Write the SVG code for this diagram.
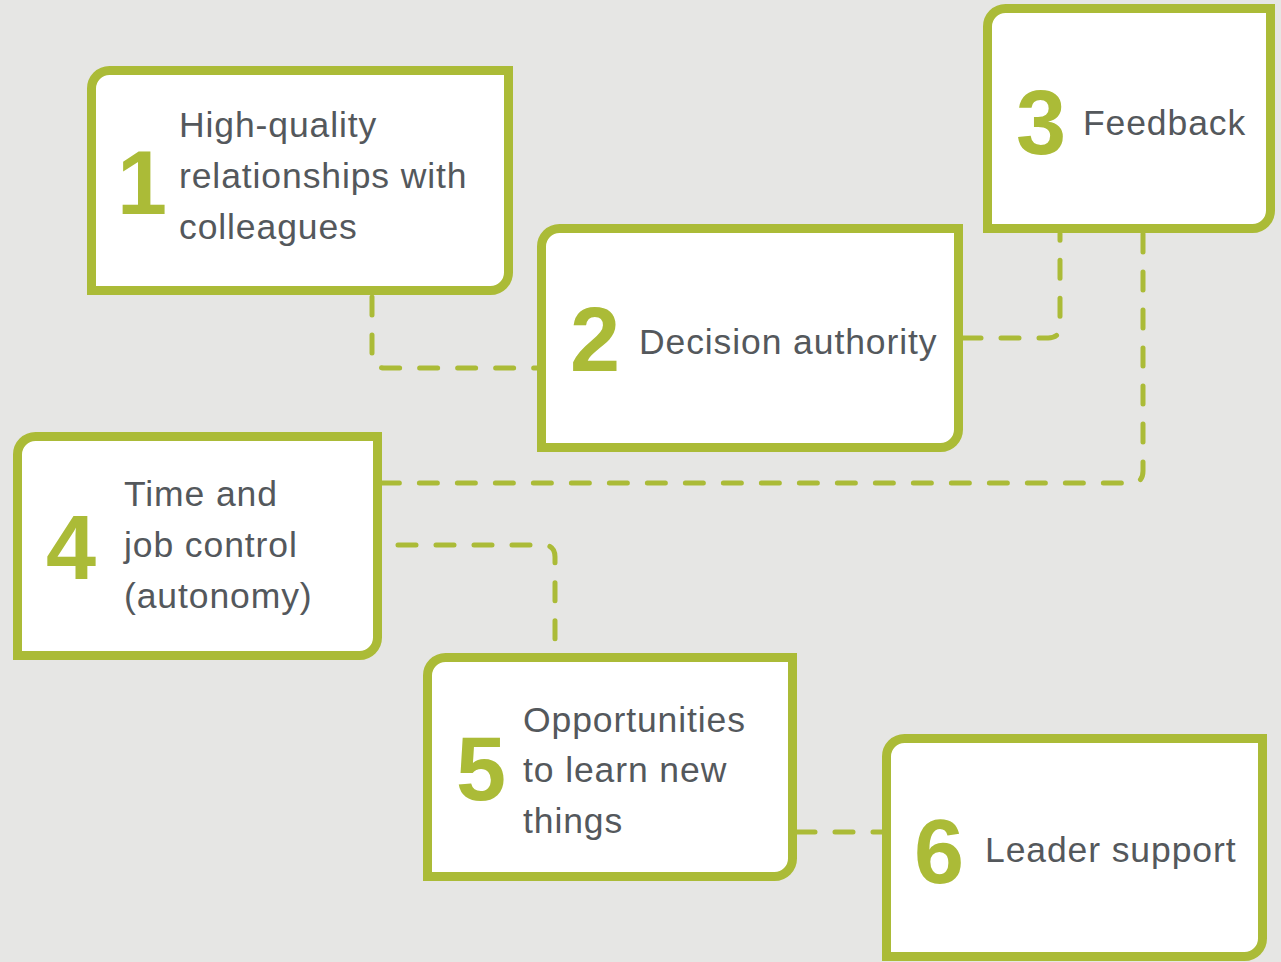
<svg xmlns="http://www.w3.org/2000/svg" width="1281" height="962" viewBox="0 0 1281 962">
  <style>
    .box { fill: #ffffff; stroke: #abbb37; stroke-width: 9; }
    .num { font-family: "Liberation Sans", Arial, sans-serif; font-weight: bold; font-size: 90px; fill: #abbb37; }
    .lbl { font-family: "Liberation Sans", Arial, sans-serif; font-size: 35.5px; letter-spacing: 0.9px; fill: #54585c; }
    .link { fill: none; stroke: #abbb37; stroke-width: 5; stroke-linecap: round; stroke-dasharray: 18 20; }
  </style>
  <rect width="1281" height="962" fill="#e6e6e4"/>

  <!-- dashed connectors between factors -->
  <g id="connectors">
    <path class="link" d="M372,297 V356 Q372,368 384,368 H537"/>
    <path class="link" d="M963,338 H1048 Q1060,338 1060,326 V234"/>
    <path class="link" d="M1143,234 V471 Q1143,483 1131,483 H382"/>
    <path class="link" d="M398,545 H543 Q555,545 555,557 V653"/>
    <path class="link" d="M797,832 H882"/>
  </g>

  <!-- boxes: rounded top-left and bottom-right corners -->
  <g id="node1">
    <path class="box" d="M109.5,70.5 H508.5 V272.5 A18,18 0 0 1 490.5,290.5 H91.5 V88.5 A18,18 0 0 1 109.5,70.5 Z"/>
    <text class="num" x="117" y="214">1</text>
    <text class="lbl" x="179" y="137">High-quality</text>
    <text class="lbl" x="179" y="188">relationships with</text>
    <text class="lbl" x="179" y="239">colleagues</text>
  </g>

  <g id="node2">
    <path class="box" d="M559.5,228.5 H958.5 V429.5 A18,18 0 0 1 940.5,447.5 H541.5 V246.5 A18,18 0 0 1 559.5,228.5 Z"/>
    <text class="num" x="570" y="371">2</text>
    <text class="lbl" x="639" y="354">Decision authority</text>
  </g>

  <g id="node3">
    <path class="box" d="M1005.5,8.5 H1270.5 V210.5 A18,18 0 0 1 1252.5,228.5 H987.5 V26.5 A18,18 0 0 1 1005.5,8.5 Z"/>
    <text class="num" x="1016" y="154">3</text>
    <text class="lbl" x="1083" y="135">Feedback</text>
  </g>

  <g id="node4">
    <path class="box" d="M35.5,436.5 H377.5 V637.5 A18,18 0 0 1 359.5,655.5 H17.5 V454.5 A18,18 0 0 1 35.5,436.5 Z"/>
    <text class="num" x="46" y="579">4</text>
    <text class="lbl" x="124" y="506">Time and</text>
    <text class="lbl" x="124" y="557">job control</text>
    <text class="lbl" x="124" y="608">(autonomy)</text>
  </g>

  <g id="node5">
    <path class="box" d="M445.5,657.5 H792.5 V858.5 A18,18 0 0 1 774.5,876.5 H427.5 V675.5 A18,18 0 0 1 445.5,657.5 Z"/>
    <text class="num" x="456" y="800">5</text>
    <text class="lbl" x="523" y="732">Opportunities</text>
    <text class="lbl" x="523" y="782">to learn new</text>
    <text class="lbl" x="523" y="833">things</text>
  </g>

  <g id="node6">
    <path class="box" d="M904.5,738.5 H1262.5 V938.5 A18,18 0 0 1 1244.5,956.5 H886.5 V756.5 A18,18 0 0 1 904.5,738.5 Z"/>
    <text class="num" x="914" y="883">6</text>
    <text class="lbl" x="985" y="862">Leader support</text>
  </g>
</svg>
